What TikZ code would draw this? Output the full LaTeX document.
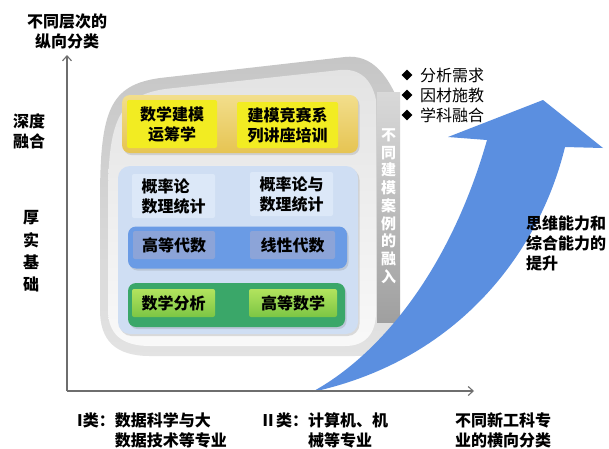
\documentclass[tikz,border=0pt]{standalone}
\usepackage{fontspec}
\setmainfont{Noto Sans CJK SC}
\usetikzlibrary{arrows.meta,shapes.geometric,shadows}
\definecolor{axisgray}{HTML}{6E6E6E}
\definecolor{arrowblue}{HTML}{5B8FE0}
\definecolor{goldrim}{HTML}{E6C452}
\definecolor{goldlight}{HTML}{F2DE8C}
\definecolor{yelbox}{HTML}{F2EC22}
\definecolor{ltblue}{HTML}{CFDEF3}
\definecolor{ltbluebox}{HTML}{DCE8F8}
\definecolor{midblue}{HTML}{6A9BE5}
\definecolor{midbluebox}{HTML}{8CA4D8}
\definecolor{greenpanel}{HTML}{3AA769}
\definecolor{limetop}{HTML}{B2E35E}
\definecolor{limebot}{HTML}{7CC644}
\tikzset{
  txt/.style={font=\bfseries\fontsize{16}{20}\selectfont, inner sep=0pt, align=center},
  plain/.style={font=\fontsize{16}{20}\selectfont, inner sep=0pt, align=left},
  panel/.style={rounded corners=8pt, draw=none, inner sep=0pt,
                drop shadow={opacity=0.25, shadow xshift=1.5pt, shadow yshift=-2pt}},
  cbox/.style={rounded corners=2pt, draw=none, inner sep=0pt,
               font=\bfseries\fontsize{16}{20}\selectfont, align=center},
  axis/.style={draw=axisgray, line width=1.1pt, -{Straight Barb[length=5pt,width=9pt]}},
  bullet/.style={diamond, fill=black, inner sep=0pt, minimum size=11pt}
}
\begin{document}
\begin{tikzpicture}[x=1pt,y=-1pt]
\useasboundingbox (0,0) rectangle (609,448);
\fill[white] (0,0) rectangle (609,448);

% gray body
\path[top color=gray!45, bottom color=gray!22]
  (100,200) .. controls (100,110) and (110,85) .. (160,78) -- (345,57)
  .. controls (372,54) and (388,75) .. (400,105) -- (400,318)
  .. controls (400,345) and (385,356) .. (355,356) -- (150,356)
  .. controls (115,356) and (100,340) .. (100,310) -- cycle;
\path[top color=gray!22, bottom color=gray!5]
  (108,200) .. controls (108,122) and (118,96) .. (165,89) -- (340,70)
  .. controls (360,68) and (372,80) .. (376,100) -- (376,312)
  .. controls (376,334) and (365,346) .. (345,346) -- (150,346)
  .. controls (122,346) and (108,334) .. (108,310) -- cycle;
% side strip
\path[top color=gray!30, bottom color=gray!75] (377,92) rectangle (400,322);

% panels
\node[panel, top color=goldlight, bottom color=goldrim, minimum width=236pt, minimum height=58pt] (yp) at (240,124) {};
\node[panel, fill=ltblue, minimum width=240pt, minimum height=168pt, rounded corners=12pt] (lp) at (238,250) {};
\node[panel, fill=midblue, minimum width=219pt, minimum height=42pt] (bp) at (237.5,247.5) {};
\node[panel, fill=greenpanel, minimum width=217pt, minimum height=44pt] (gp) at (236.5,305) {};

% yellow boxes
\node[cbox, fill=yelbox, minimum width=90pt, minimum height=48pt] (y1) at (172,124) {数学建模\\运筹学};
\node[cbox, fill=yelbox, minimum width=101pt, minimum height=46pt] (y2) at (287.5,125) {建模竞赛系\\列讲座培训};
% probability boxes
\node[cbox, fill=ltbluebox, minimum width=83pt, minimum height=44pt, align=left] (p1) at (173.5,196) {概率论\\数理统计};
\node[cbox, fill=ltbluebox, minimum width=83pt, minimum height=44pt] (p2) at (291.5,194) {概率论与\\数理统计};
% algebra boxes
\node[cbox, fill=midbluebox, minimum width=82pt, minimum height=28pt] (q1) at (174,245) {高等代数};
\node[cbox, fill=midbluebox, minimum width=85pt, minimum height=28pt] (q2) at (292.5,245) {线性代数};
% analysis boxes
\node[cbox, top color=limetop, bottom color=limebot, minimum width=83pt, minimum height=28pt] (g1) at (173.5,303) {数学分析};
\node[cbox, top color=limetop, bottom color=limebot, minimum width=88pt, minimum height=28pt] (g2) at (293,303) {高等数学};

% strip text
\node[font=\bfseries\fontsize{15}{17.75}\selectfont, text=white, align=center, inner sep=0pt] (strip) at (388.5,206)
  {不\\同\\建\\模\\案\\例\\的\\融\\入};

% big arrow
\coordinate (aB) at (312,392);
\coordinate (aL) at (487,140);
\coordinate (aR) at (565,147);
\coordinate (bL) at (448,137);
\coordinate (tip) at (543,100);
\coordinate (bR) at (603,148);
\fill[arrowblue] (aB) .. controls (380,355) and (450,270) .. (aL) -- (bL) -- (tip) -- (bR) -- (aR)
  .. controls (540,250) and (460,360) .. (aB) -- cycle;

% axes
\coordinate (O) at (67,391);
\coordinate (Xe) at (474,391);
\coordinate (Ye) at (67,55);
\draw[axis] (O) -- (Xe);
\draw[axis] (O) -- (Ye);

% labels
\node[txt] (ttl) at (67,31.5) {不同层次的\\纵向分类};
\node[txt] (deep) at (29,131) {深度\\融合};
\node[txt, font=\bfseries\fontsize{16}{22.3}\selectfont] (base) at (31,251.5) {厚\\实\\基\\础};
\node[txt, align=left, anchor=west] (c1) at (77,430) {I类：数据科学与大\\\hphantom{I类：}数据技术等专业};
\node[txt, align=left, anchor=west] (c2) at (260,430) {Ⅱ类：计算机、机\\\hphantom{Ⅱ类：}械等专业};
\node[txt, align=left, anchor=west] (c3) at (455,430) {不同新工科专\\业的横向分类};
\node[txt, align=left, anchor=west] (abil) at (526,243) {思维能力和\\综合能力的\\提升};

% bullets
\node[bullet] (d1) at (407,75) {};
\node[bullet] (d2) at (407,95) {};
\node[bullet] (d3) at (407,115) {};
\node[plain, anchor=west] (t1) at (420,75) {分析需求};
\node[plain, anchor=west] (t2) at (420,95) {因材施教};
\node[plain, anchor=west] (t3) at (420,115) {学科融合};
\end{tikzpicture}
\end{document}
